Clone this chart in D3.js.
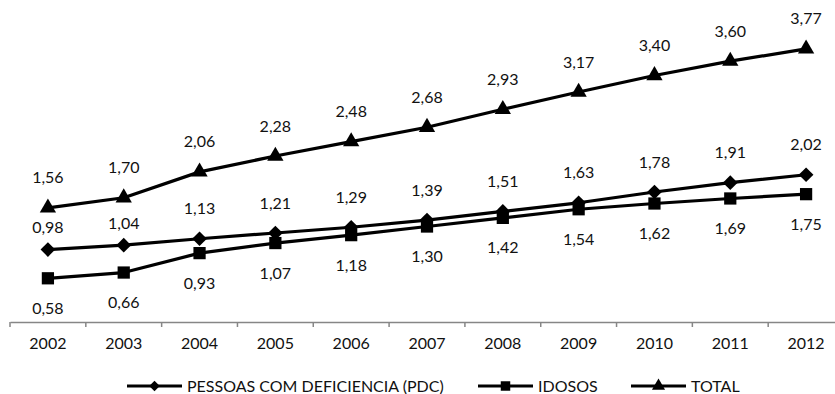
<!DOCTYPE html>
<html>
<head>
<meta charset="utf-8">
<script src="https://cdn.jsdelivr.net/npm/d3@7"></script>
<style>
  html, body { margin: 0; padding: 0; background: #fff; }
  svg { display: block; font-family: Lato, "Open Sans", sans-serif; }
</style>
</head>
<body>
<svg id="chart" width="835" height="394"></svg>
<script>
const years = ["2002","2003","2004","2005","2006","2007","2008","2009","2010","2011","2012"];
const pdc    = [0.98, 1.04, 1.13, 1.21, 1.29, 1.39, 1.51, 1.63, 1.78, 1.91, 2.02];
const idosos = [0.58, 0.66, 0.93, 1.07, 1.18, 1.30, 1.42, 1.54, 1.62, 1.69, 1.75];
const total  = [1.56, 1.70, 2.06, 2.28, 2.48, 2.68, 2.93, 3.17, 3.40, 3.60, 3.77];
const seriesNames = ["PESSOAS COM DEFICIENCIA (PDC)", "IDOSOS", "TOTAL"];

const series = [
  { name: seriesNames[0], values: pdc,    symbol: d3.symbolSquare,   rot: 45, size: 108, legendSize: 55, labelPos: "above" },
  { name: seriesNames[1], values: idosos, symbol: d3.symbolSquare,   rot: 0,  size: 150, legendSize: 90, labelPos: "below" },
  { name: seriesNames[2], values: total,  symbol: d3.symbolTriangle, rot: 0,  size: 115, legendSize: 75, labelPos: "above" }
];

const svg = d3.select("#chart");
const x = d3.scaleBand().domain(years).range([10, 844]);
const y = d3.scaleLinear().domain([0, 4.45]).range([320, 0]);
const fmt = v => d3.format(".2f")(v).replace(".", ",");

// x axis
const axis = svg.append("g").attr("transform", "translate(0,322)")
  .call(d3.axisBottom(x).tickSize(0).tickSizeOuter(0));
axis.select(".domain").attr("stroke", "#868686").attr("stroke-width", 1.5);
axis.selectAll(".tick text").remove();
// ticks between categories
const boundaries = years.map(yr => x(yr));
svg.append("g").selectAll("line").data(boundaries).join("line")
  .attr("x1", d => d).attr("x2", d => d)
  .attr("y1", 322).attr("y2", 327)
  .attr("stroke", "#868686").attr("stroke-width", 1.5);
svg.append("g").selectAll("text").data(years).join("text")
  .attr("x", d => x(d) + x.bandwidth() / 2)
  .attr("y", 349)
  .attr("text-anchor", "middle")
  .attr("font-size", 16)
  .attr("fill", "#111")
  .text(d => d);

const line = d3.line()
  .x((d, i) => x(years[i]) + x.bandwidth() / 2)
  .y(d => y(d));

// the first two PDC labels sit closer to their markers (moved to avoid the TOTAL labels)
const labelOffset = (s, i) => {
  if (s.labelPos === "below") return 30;
  if (s === series[0] && i < 2) return -22;
  return -30;
};

series.forEach(s => {
  const g = svg.append("g");
  g.append("path").datum(s.values)
    .attr("d", line)
    .attr("fill", "none")
    .attr("stroke", "#000")
    .attr("stroke-width", 3.2)
    .attr("stroke-linejoin", "round");
  g.selectAll("path.m").data(s.values).join("path")
    .attr("class", "m")
    .attr("transform", (d, i) => `translate(${x(years[i]) + x.bandwidth() / 2},${y(d)}) rotate(${s.rot})`)
    .attr("d", d3.symbol().type(s.symbol).size(s.size))
    .attr("fill", "#000");
  g.selectAll("text").data(s.values).join("text")
    .attr("x", (d, i) => x(years[i]) + x.bandwidth() / 2)
    .attr("y", (d, i) => y(d) + labelOffset(s, i))
    .attr("dy", "0.35em")
    .attr("text-anchor", "middle")
    .attr("font-size", 16)
    .attr("fill", "#111")
    .text(d => fmt(d));
});

// legend
const legendStarts = [127, 478, 631];
const lg = svg.append("g");
series.forEach((s, k) => {
  const x0 = legendStarts[k];
  const ly = 386;
  lg.append("line").attr("x1", x0).attr("x2", x0 + 55).attr("y1", ly).attr("y2", ly)
    .attr("stroke", "#000").attr("stroke-width", 3.2);
  lg.append("path").attr("transform", `translate(${x0 + 27.5},${ly}) rotate(${s.rot})`)
    .attr("d", d3.symbol().type(s.symbol).size(s.legendSize)).attr("fill", "#000");
  lg.append("text").attr("x", x0 + 60).attr("y", ly).attr("dy", "0.35em")
    .attr("font-size", 16).attr("fill", "#111").text(s.name);
});
</script>
</body>
</html>
